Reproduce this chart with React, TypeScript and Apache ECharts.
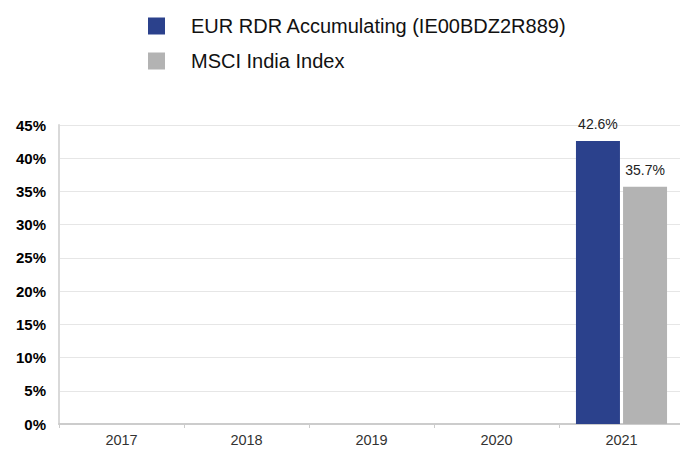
import React, { useEffect, useRef } from "react";
import * as echarts from "echarts";

const categories = ["2017", "2018", "2019", "2020", "2021"];
const fundName = "EUR RDR Accumulating (IE00BDZ2R889)";
const indexName = "MSCI India Index";
const fundValues: (number | null)[] = [null, null, null, null, 42.6];
const indexValues: (number | null)[] = [null, null, null, null, 35.7];
const yTicks = [0, 5, 10, 15, 20, 25, 30, 35, 40, 45];

export default function App() {
  const ref = useRef<HTMLDivElement>(null);
  useEffect(() => {
    const chart = echarts.init(ref.current!, null, { renderer: "svg" });
    const font = "'Liberation Sans', Arial, sans-serif";
    const label = {
      show: true,
      position: "top",
      formatter: (p: any) => p.value.toFixed(1) + "%",
      color: "#222",
      fontSize: 14,
      distance: 10,
      fontFamily: font,
    };
    chart.setOption({
      animation: false,
      textStyle: { fontFamily: font },
      legend: {
        orient: "vertical",
        left: 143,
        top: 11,
        itemWidth: 17,
        itemHeight: 17,
        itemGap: 15,
        icon: "rect",
        textStyle: { fontSize: 20, color: "#111", fontFamily: font, padding: [3, 0, 0, 21] },
        data: [fundName, indexName],
      },
      grid: { left: 59, width: 625, top: 125, bottom: 25, containLabel: false, outerBoundsMode: "none" },
      xAxis: {
        type: "category",
        data: categories,
        axisLine: { show: true, lineStyle: { color: "#cccccc", width: 2 } },
        axisTick: { show: true, length: 4, lineStyle: { color: "#cccccc" } },
        axisLabel: { color: "#333", fontSize: 14.5, margin: 8, fontFamily: font },
      },
      yAxis: {
        type: "value",
        min: yTicks[0],
        max: yTicks[yTicks.length - 1],
        interval: 5,
        axisLine: { show: true, lineStyle: { color: "#d9d9d9", width: 2 } },
        axisTick: { show: false },
        splitLine: { lineStyle: { color: "#e6e6e6" } },
        axisLabel: {
          formatter: (v: number) => v + "%",
          color: "#000",
          fontWeight: "bold",
          fontSize: 15,
          margin: 13,
          fontFamily: font,
        },
      },
      series: [
        {
          name: fundName,
          type: "bar",
          data: fundValues,
          barWidth: 44,
          barGap: "7%",
          itemStyle: { color: "#2B418C" },
          label,
        },
        {
          name: indexName,
          type: "bar",
          data: indexValues,
          barWidth: 44,
          itemStyle: { color: "#B3B3B3" },
          label,
        },
      ],
    });
    return () => chart.dispose();
  }, []);
  return <div ref={ref} style={{ width: 680, height: 449, position: "absolute", left: 0, top: 0 }} />;
}
